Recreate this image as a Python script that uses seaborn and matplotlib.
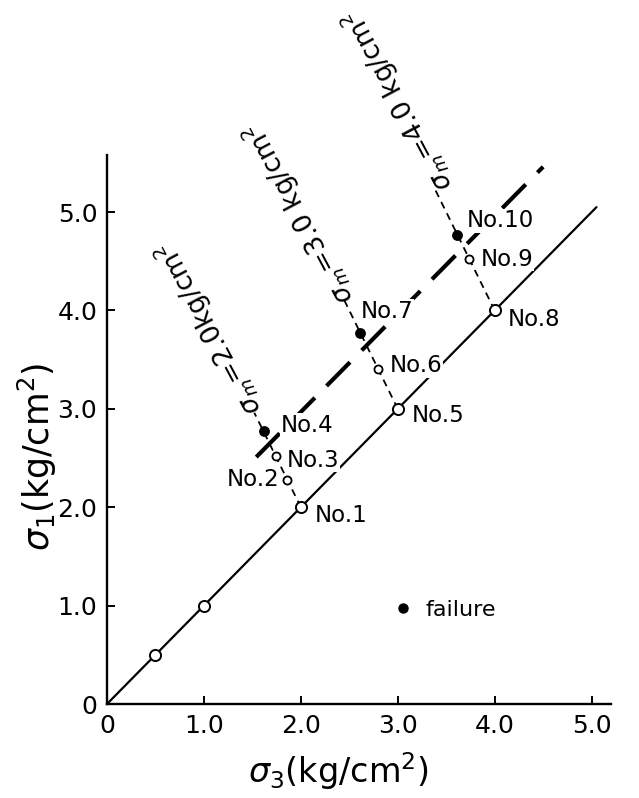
import matplotlib
matplotlib.use("Agg")
import matplotlib.pyplot as plt
from matplotlib.lines import Line2D
import seaborn as sns
import pandas as pd

# Test points (sigma3, sigma1) in kg/cm2
point_names = ["", "", "No.1", "No.2", "No.3", "No.4", "No.5", "No.6", "No.7", "No.8", "No.9", "No.10"]
sigma3 = [0.5, 1.0, 2.0, 1.86, 1.74, 1.615, 3.0, 2.8, 2.615, 4.0, 3.74, 3.615]
sigma1 = [0.5, 1.0, 2.0, 2.28, 2.52, 2.77, 3.0, 3.4, 3.77, 4.0, 4.52, 4.77]
point_kind = ["big", "big", "big", "small", "small", "failure",
              "big", "small", "failure", "big", "small", "failure"]

# label offsets (pixels) for the No. labels
label_dx = [0, 0, 14, -8, 11, 17, 14, 11, 0, 13, 11, 9]
label_dy = [0, 0, -8, 0, -4, 6, -7, 4, 22, -9, 0, 14]
label_ha = ["left", "left", "left", "right", "left", "left",
            "left", "left", "left", "left", "left", "left"]

# sigma1 = sigma3 line
iso_s3 = [0.0, 5.05]
iso_s1 = [0.0, 5.05]

# failure line (long dashes)
fail_s3 = [1.54, 4.50]
fail_s1 = [2.51, 5.46]

# constant mean stress paths
sigma_m = [2.0, 3.0, 4.0]
path_s3 = [[2.0, 1.52], [3.0, 2.43], [4.0, 3.38]]
path_s1 = [[2.0, 2.96], [3.0, 4.14], [4.0, 5.24]]
path_text = [r"$\sigma_m$=2.0kg/cm$^2$", r"$\sigma_m$=3.0 kg/cm$^2$", r"$\sigma_m$=4.0 kg/cm$^2$"]
path_text_x = [1.06, 1.99, 3.01]
path_text_y = [3.82, 4.99, 6.14]

ticks = [0, 1, 2, 3, 4, 5]
tick_labels = ["0", "1.0", "2.0", "3.0", "4.0", "5.0"]

sns.set_style("ticks")
plt.rcParams["font.family"] = ["DejaVu Sans"]
plt.rcParams["mathtext.fontset"] = "dejavusans"
for key in ["text.color", "axes.labelcolor", "xtick.color", "ytick.color", "axes.edgecolor"]:
    plt.rcParams[key] = "black"

df = pd.DataFrame({"s3": sigma3, "s1": sigma1, "kind": point_kind, "name": point_names})

fig = plt.figure(figsize=(6.39, 7.98), dpi=100)
ax = fig.add_axes([107 / 639, 94 / 798, 504 / 639, 549 / 798])

sns.lineplot(x=iso_s3, y=iso_s1, color="black", linewidth=1.6, sort=False, estimator=None, ax=ax, zorder=1)
sns.lineplot(x=fail_s3, y=fail_s1, color="black", linewidth=3.0, sort=False, estimator=None, ax=ax,
             linestyle=(0, (8, 4)), zorder=1)
for xs, ys in zip(path_s3, path_s1):
    sns.lineplot(x=xs, y=ys, color="black", linewidth=1.3, sort=False, estimator=None, ax=ax,
                 linestyle=(0, (4, 3)), zorder=1)

big = df[df["kind"] == "big"]
small = df[df["kind"] == "small"]
fail = df[df["kind"] == "failure"]
sns.scatterplot(data=big, x="s3", y="s1", s=64, color="white", edgecolor="black", linewidth=1.4, ax=ax, zorder=4)
sns.scatterplot(data=small, x="s3", y="s1", s=34, color="white", edgecolor="black", linewidth=1.3, ax=ax, zorder=4)
sns.scatterplot(data=fail, x="s3", y="s1", s=46, color="black", edgecolor="black", linewidth=1, ax=ax, zorder=4)

for i, name in enumerate(point_names):
    if not name:
        continue
    ax.annotate(name, (sigma3[i], sigma1[i]), xytext=(label_dx[i], label_dy[i]),
                textcoords="offset pixels", ha=label_ha[i], va="center", fontsize=16.5, zorder=3,
                bbox=dict(facecolor="white", edgecolor="none", pad=0.5))

for tx, ty, s in zip(path_text_x, path_text_y, path_text):
    ax.text(tx, ty, s, rotation=118, rotation_mode="anchor", ha="center", va="center",
            fontsize=19, clip_on=False)

handles = [Line2D([], [], marker="o", color="black", linestyle="none", markersize=6.5)]
ax.legend(handles, ["failure"], loc="center left", bbox_to_anchor=(0.548, 0.171), frameon=False,
          fontsize=16, handletextpad=0.5, handlelength=1.0, borderaxespad=0)

ax.set_xlim(0, 5.2)
ax.set_ylim(0, 5.58)
ax.set_xticks(ticks)
ax.set_xticklabels(tick_labels)
ax.set_yticks(ticks)
ax.set_yticklabels(tick_labels)
ax.tick_params(direction="in", length=6, width=1.4, labelsize=18, pad=7)
sns.despine(ax=ax)
for sp in ["left", "bottom"]:
    ax.spines[sp].set_linewidth(1.7)

ax.set_xlabel(r"$\sigma_3$(kg/cm$^2$)", fontsize=24)
ax.set_ylabel(r"$\sigma_1$(kg/cm$^2$)", fontsize=25)
ax.xaxis.set_label_coords(0.46, -0.085)
ax.yaxis.set_label_coords(-0.095, 0.45)

fig.savefig("out.png", dpi=100)
